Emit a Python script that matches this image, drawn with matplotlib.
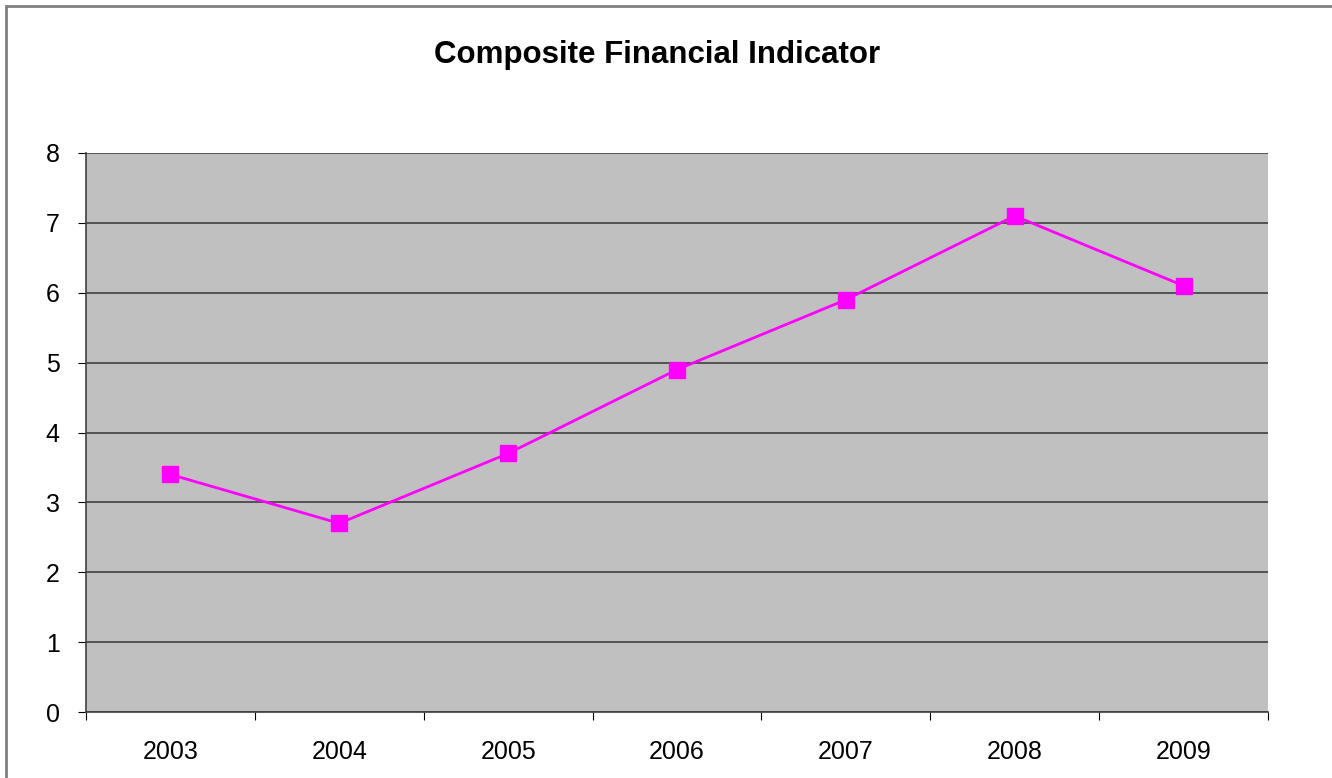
import matplotlib
matplotlib.use("Agg")
import matplotlib.pyplot as plt
from matplotlib.patches import Rectangle

plt.rcParams['font.family'] = ['Liberation Sans', 'DejaVu Sans']

years = ["2003", "2004", "2005", "2006", "2007", "2008", "2009"]
indicator = [3.4, 2.7, 3.7, 4.9, 5.9, 7.1, 6.1]

W, H = 1332, 778
fig = plt.figure(figsize=(W / 100, H / 100), dpi=100)
fig.patch.set_facecolor("white")

# outer chart border
fig.add_artist(Rectangle((6 / W, -0.1), 1.2, 1 - 6 / H + 0.1, transform=fig.transFigure,
                         fill=False, edgecolor="#808080", linewidth=2))

ax = fig.add_axes([86 / W, 1 - 712 / H, (1268 - 86) / W, (712 - 153) / H])
ax.set_facecolor("#C0C0C0")

x = [i + 0.5 for i in range(len(years))]
ax.plot(x, indicator, color="#FF00FF", linewidth=2, marker="s", markersize=11,
        markeredgecolor="#FF00FF", zorder=3)

ax.set_xlim(0, len(years))
ax.set_ylim(0, 8)
ax.set_yticks(range(0, 9))
ax.set_xticks(range(0, len(years) + 1))
ax.set_xticklabels([])
ax.set_xticks(x, minor=True)
ax.set_xticklabels(years, minor=True)
ax.tick_params(axis="x", which="minor", length=0, pad=20, labelsize=18)
ax.tick_params(axis="x", which="major", length=6, direction="out", color="black")
ax.tick_params(axis="y", length=6, direction="out", pad=13, labelsize=18, color="black")

ax.yaxis.grid(True, color="#404040", linewidth=1.2)
ax.set_axisbelow(True)
for side in ["top", "right"]:
    ax.spines[side].set_visible(False)
ax.spines["left"].set_color("#404040")
ax.spines["bottom"].set_color("#404040")
ax.spines["left"].set_linewidth(1.2)
ax.spines["bottom"].set_linewidth(1.2)

fig.text(657 / W, 1 - 55 / H, "Composite Financial Indicator", ha="center", va="center",
         fontsize=22.5, fontweight="bold")

fig.savefig("out.png", dpi=100)
